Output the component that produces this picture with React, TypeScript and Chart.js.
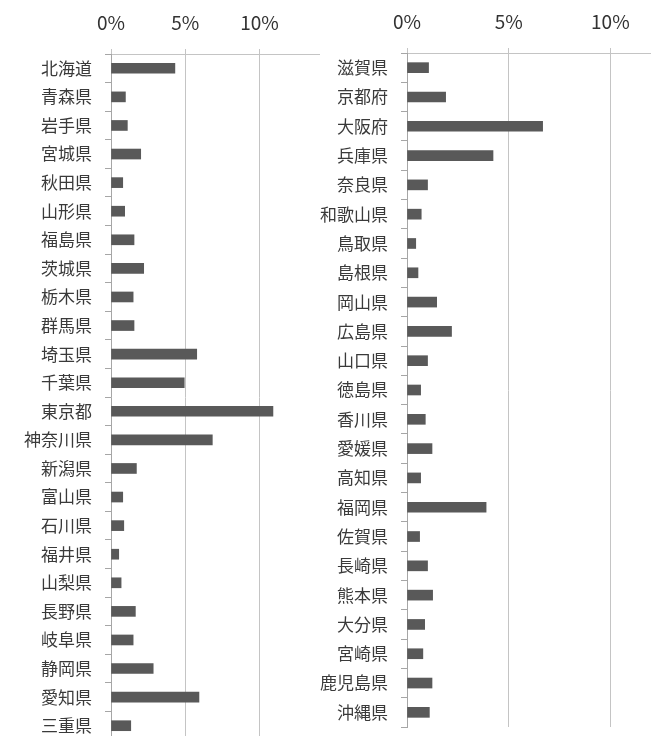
import React, { useEffect, useRef } from 'react';
import { Chart, registerables } from 'chart.js';

Chart.register(...registerables);

const leftCategories = [
  '北海道', '青森県', '岩手県', '宮城県', '秋田県', '山形県', '福島県', '茨城県',
  '栃木県', '群馬県', '埼玉県', '千葉県', '東京都', '神奈川県', '新潟県', '富山県',
  '石川県', '福井県', '山梨県', '長野県', '岐阜県', '静岡県', '愛知県', '三重県',
];
const leftValues = [
  4.3, 0.97, 1.1, 2.0, 0.79, 0.92, 1.55, 2.2,
  1.49, 1.55, 5.77, 4.93, 10.9, 6.82, 1.71, 0.79,
  0.86, 0.52, 0.68, 1.64, 1.49, 2.84, 5.92, 1.33,
];

const rightCategories = [
  '滋賀県', '京都府', '大阪府', '兵庫県', '奈良県', '和歌山県', '鳥取県', '島根県',
  '岡山県', '広島県', '山口県', '徳島県', '香川県', '愛媛県', '高知県', '福岡県',
  '佐賀県', '長崎県', '熊本県', '大分県', '宮崎県', '鹿児島県', '沖縄県',
];
const rightValues = [
  1.06, 1.9, 6.67, 4.23, 1.01, 0.7, 0.43, 0.54,
  1.46, 2.19, 1.01, 0.67, 0.9, 1.23, 0.67, 3.89,
  0.62, 1.01, 1.26, 0.87, 0.78, 1.23, 1.1,
];

const tickValues = [0, 5, 10];

const FONT = '"Noto Sans CJK JP", "Noto Sans", sans-serif';

type PanelProps = {
  labels: string[];
  values: number[];
  max: number;
  left: number;
  width: number;
  height: number;
  yWidth: number;
  xHeight: number;
  padRight: number;
  padBottom: number;
};

function Panel(p: PanelProps) {
  const ref = useRef<HTMLCanvasElement | null>(null);
  useEffect(() => {
    if (!ref.current) return;
    const chart = new Chart(ref.current, {
      type: 'bar',
      data: {
        labels: p.labels,
        datasets: [
          {
            data: p.values,
            backgroundColor: '#595959',
            borderWidth: 0,
            barThickness: 10,
          },
        ],
      },
      options: {
        animation: false,
        responsive: false,
        indexAxis: 'y',
        layout: { padding: { left: 0, top: 0, right: p.padRight, bottom: p.padBottom } },
        plugins: { legend: { display: false }, tooltip: { enabled: false } },
        scales: {
          x: {
            position: 'top',
            min: 0,
            max: p.max,
            afterBuildTicks: (s: any) => {
              s.ticks = tickValues.map((v) => ({ value: v }));
            },
            afterFit: (s: any) => {
              s.height = p.xHeight;
              s.paddingLeft = 0;
              s.paddingRight = 0;
            },
            ticks: {
              callback: (v: any) => v + '%',
              font: { family: FONT, size: 19 },
              color: '#333333',
              padding: 15,
              maxRotation: 0,
            },
            grid: { color: '#c4c4c4', tickLength: 5, lineWidth: 1 },
            border: { color: '#c4c4c4' },
          },
          y: {
            afterFit: (s: any) => {
              s.width = p.yWidth;
              s.paddingTop = 0;
              s.paddingBottom = 0;
            },
            ticks: {
              font: { family: FONT, size: 17 },
              color: '#3a3a3a',
              padding: 13,
              autoSkip: false,
            },
            grid: { drawOnChartArea: false, tickLength: 6, color: '#a6a6a6' },
            border: { color: '#a6a6a6' },
          },
        },
      },
    } as any);
    return () => chart.destroy();
  }, []);
  return (
    <canvas
      ref={ref}
      width={p.width}
      height={p.height}
      style={{ position: 'absolute', left: p.left, top: 0, width: p.width, height: p.height }}
    />
  );
}

export default function App() {
  return (
    <div
      style={{
        position: 'fixed',
        left: 0,
        top: 0,
        width: 651,
        height: 736,
        overflow: 'hidden',
        background: '#ffffff',
      }}
    >
      <Panel
        labels={leftCategories}
        values={leftValues}
        max={14}
        left={0}
        width={330}
        height={745}
        yWidth={111}
        xHeight={54}
        padRight={11}
        padBottom={5}
      />
      <Panel
        labels={rightCategories}
        values={rightValues}
        max={12}
        left={300}
        width={351}
        height={736}
        yWidth={107}
        xHeight={53}
        padRight={0}
        padBottom={9}
      />
    </div>
  );
}
